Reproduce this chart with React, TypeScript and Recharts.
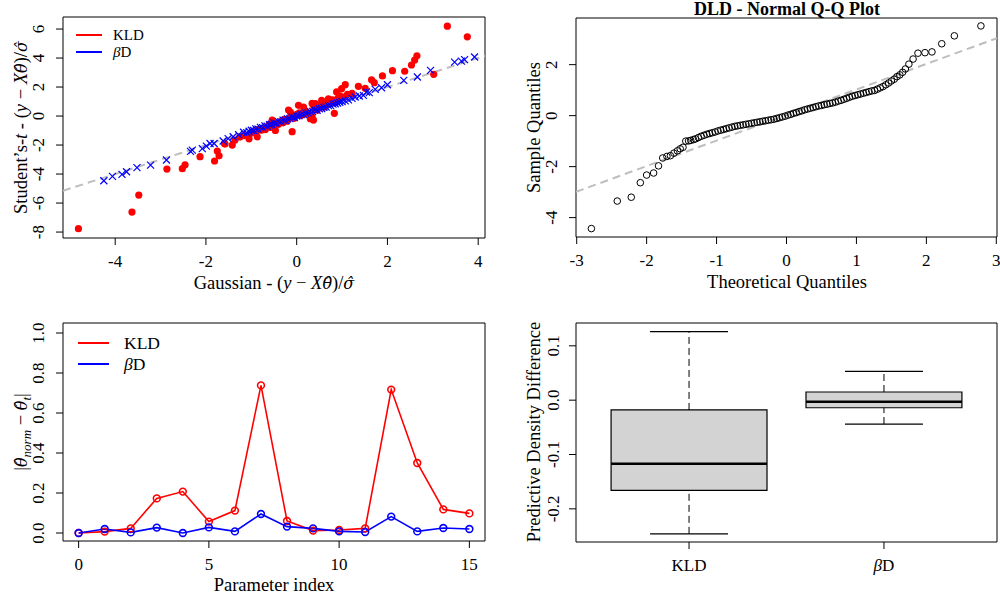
import React from "react";
import {
  ScatterChart,
  Scatter,
  LineChart,
  Line,
  ComposedChart,
  XAxis,
  YAxis,
  ReferenceLine,
  ReferenceArea,
} from "recharts";

const FONT = '"Liberation Serif", "Times New Roman", serif';
const MATH = '"DejaVu Serif", serif';
const HAT = "\u0302";

// ---- top-left: Student's-t residuals vs Gaussian residuals ----
const kldPairs: [number, number][] = [
  [-4.81, -7.77], [-3.63, -6.62], [-3.48, -5.45], [-2.86, -3.66], [-2.52, -3.63],
  [-2.46, -3.36], [-2.13, -2.8], [-1.81, -3.1], [-1.75, -2.41], [-1.71, -2.74],
  [-1.59, -1.89], [-1.58, -1.93], [-1.42, -2.0], [-1.36, -1.66], [-1.25, -1.45],
  [-1.15, -1.35], [-1.05, -1.57], [-1.02, -1.2], [-0.95, -1.08], [-0.9, -1.15],
  [-0.87, -1.43], [-0.84, -0.92], [-0.78, -0.98], [-0.74, -0.82], [-0.69, -0.93],
  [-0.64, -0.72], [-0.6, -0.55], [-0.58, -0.78], [-0.54, -0.28], [-0.52, -0.62],
  [-0.47, -0.99], [-0.44, -0.48], [-0.4, -0.57], [-0.35, -0.36], [-0.3, -0.47],
  [-0.28, -0.22], [-0.25, -0.24], [-0.21, -0.36], [-0.18, 0.41], [-0.15, -0.1],
  [-0.14, 0.28], [-0.1, -1.08], [-0.08, 0.04], [-0.05, -0.16], [0.0, 0.12],
  [0.04, 0.74], [0.06, 0.22], [0.1, 0.05], [0.15, 0.62], [0.19, 0.36],
  [0.2, 0.15], [0.24, 0.2], [0.3, -0.18], [0.34, 0.87], [0.34, -0.05],
  [0.37, -0.28], [0.38, 0.55], [0.41, 0.85], [0.45, 0.4], [0.46, 0.52],
  [0.5, 0.72], [0.55, 1.08], [0.6, 0.76], [0.62, 0.62], [0.65, 0.92],
  [0.7, 1.19], [0.72, 0.85], [0.75, 0.96], [0.79, 1.12], [0.83, 0.19],
  [0.85, 0.95], [0.88, 1.66], [0.91, 1.22], [0.95, 1.4], [0.99, 1.89],
  [1.02, 1.3], [1.07, 2.16], [1.12, 1.5], [1.22, 1.56], [1.36, 2.05],
  [1.51, 1.91], [1.65, 2.5], [1.71, 2.3], [1.89, 2.77], [2.11, 3.13],
  [2.38, 3.09], [2.53, 3.52], [2.6, 3.86], [2.65, 4.15], [3.02, 2.88],
  [3.32, 6.2], [3.76, 5.46],
];

const betaPairs: [number, number][] = [
  [-4.25, -4.46], [-4.06, -4.16], [-3.85, -4.02], [-3.75, -3.84], [-3.52, -3.56],
  [-3.22, -3.38], [-2.87, -3.03], [-2.34, -2.44], [-2.3, -2.35], [-2.08, -2.25],
  [-1.99, -2.07], [-1.91, -1.89], [-1.82, -1.89], [-1.62, -1.72], [-1.51, -1.56],
  [-1.4, -1.43], [-1.28, -1.29], [-1.17, -1.12], [-1.1, -1.15], [-1.05, -1.05],
  [-1.0, -0.98], [-0.95, -1.0], [-0.9, -0.88], [-0.85, -0.9], [-0.8, -0.78],
  [-0.75, -0.8], [-0.7, -0.68], [-0.65, -0.7], [-0.6, -0.6], [-0.55, -0.58],
  [-0.5, -0.48], [-0.45, -0.5], [-0.4, -0.38], [-0.35, -0.4], [-0.3, -0.28],
  [-0.25, -0.3], [-0.2, -0.2], [-0.15, -0.18], [-0.1, -0.08], [-0.05, -0.1],
  [0.0, 0.0], [0.05, 0.02], [0.1, 0.1], [0.15, 0.12], [0.2, 0.2],
  [0.25, 0.22], [0.3, 0.3], [0.35, 0.32], [0.4, 0.42], [0.45, 0.4],
  [0.5, 0.5], [0.55, 0.52], [0.6, 0.6], [0.65, 0.62], [0.7, 0.72],
  [0.75, 0.72], [0.8, 0.82], [0.85, 0.85], [0.9, 0.9], [0.95, 0.95],
  [1.0, 1.0], [1.07, 1.05], [1.14, 1.12], [1.22, 1.22], [1.29, 1.31],
  [1.38, 1.38], [1.47, 1.43], [1.54, 1.66], [1.6, 1.62], [1.73, 1.84],
  [1.87, 1.95], [2.0, 2.16], [2.36, 2.46], [2.66, 2.69], [2.95, 3.15],
  [3.48, 3.72], [3.63, 3.79], [3.7, 3.89], [3.92, 4.07],
];

const tlXDomain = [-5.15, 4.15];
const tlYDomain = [-8.41, 6.83];
const tlXTicks = [-4, -2, 0, 2, 4];
const tlYTicks = [-8, -6, -4, -2, 0, 2, 4, 6];
const tlRefLine = [[-5.15, -5.15], [4.15, 4.15]];

// ---- top-right: DLD normal Q-Q ----
const qqPairs: [number, number][] = [
  [-2.79, -4.43], [-2.42, -3.35], [-2.22, -3.2], [-2.09, -2.63], [-2.0, -2.33],
  [-1.9, -2.25], [-1.83, -1.97], [-1.77, -1.66], [-1.71, -1.6], [-1.66, -1.57],
  [-1.61, -1.47], [-1.56, -1.38], [-1.52, -1.3], [-1.48, -1.24], [-1.44, -1.0],
  [-1.4, -0.99], [-1.37, -0.97], [-1.33, -0.94], [-1.3, -0.91], [-1.26, -0.86],
  [-1.22, -0.81], [-1.18, -0.77], [-1.14, -0.73], [-1.1, -0.7], [-1.06, -0.67],
  [-1.02, -0.64], [-0.98, -0.6], [-0.94, -0.57], [-0.9, -0.54], [-0.86, -0.51],
  [-0.82, -0.48], [-0.78, -0.45], [-0.74, -0.42], [-0.7, -0.4], [-0.66, -0.38],
  [-0.62, -0.36], [-0.58, -0.34], [-0.54, -0.32], [-0.5, -0.3], [-0.46, -0.28],
  [-0.42, -0.26], [-0.38, -0.24], [-0.34, -0.22], [-0.3, -0.2], [-0.26, -0.18],
  [-0.22, -0.16], [-0.18, -0.14], [-0.14, -0.11], [-0.1, -0.08], [-0.06, -0.05],
  [-0.02, -0.02], [0.02, 0.02], [0.06, 0.05], [0.1, 0.09], [0.14, 0.12],
  [0.18, 0.16], [0.22, 0.19], [0.26, 0.23], [0.3, 0.26], [0.34, 0.29],
  [0.38, 0.32], [0.42, 0.35], [0.46, 0.38], [0.5, 0.4], [0.54, 0.43],
  [0.58, 0.45], [0.62, 0.48], [0.66, 0.5], [0.7, 0.53], [0.74, 0.57],
  [0.78, 0.6], [0.82, 0.64], [0.86, 0.68], [0.9, 0.72], [0.94, 0.76],
  [0.98, 0.79], [1.02, 0.82], [1.06, 0.85], [1.1, 0.88], [1.14, 0.91],
  [1.18, 0.94], [1.22, 0.97], [1.26, 0.99], [1.3, 1.04], [1.34, 1.09],
  [1.38, 1.14], [1.42, 1.21], [1.46, 1.28], [1.5, 1.36], [1.54, 1.43],
  [1.58, 1.53], [1.62, 1.6], [1.66, 1.7], [1.7, 1.83], [1.75, 2.02],
  [1.81, 2.22], [1.88, 2.45], [1.98, 2.47], [2.08, 2.5], [2.22, 2.82],
  [2.4, 3.13], [2.78, 3.52],
];

const trXDomain = [-3.01, 3.01];
const trYDomain = [-4.76, 3.83];
const trXTicks = [-3, -2, -1, 0, 1, 2, 3];
const trYTicks = [-4, -2, 0, 2];
const qqLine = [[-3.01, -2.99], [3.01, 3.04]];

// ---- bottom-left: parameter differences ----
const paramIndex = [0, 1, 2, 3, 4, 5, 6, 7, 8, 9, 10, 11, 12, 13, 14, 15];
const kldDiff = [0.0, 0.007, 0.023, 0.173, 0.207, 0.057, 0.112, 0.738, 0.06, 0.012, 0.015, 0.023, 0.717, 0.35, 0.118, 0.098];
const betaDiff = [0.0, 0.02, 0.003, 0.027, 0.0, 0.028, 0.008, 0.095, 0.032, 0.023, 0.008, 0.005, 0.082, 0.008, 0.025, 0.02];
const blXDomain = [-0.6, 15.6];
const blYDomain = [-0.04, 1.05];
const blXTicks = [0, 5, 10, 15];
const blYTicks = [0, 0.2, 0.4, 0.6, 0.8, 1.0];

// ---- bottom-right: predictive density difference boxplots ----
const boxNames = ["KLD", "βD"];
const boxPos = [1, 2];
const boxLow = [-0.246, -0.044];
const boxQ1 = [-0.166, -0.014];
const boxMedian = [-0.117, -0.003];
const boxQ3 = [-0.018, 0.015];
const boxHigh = [0.126, 0.053];
const brXDomain = [0.42, 2.58];
const brYDomain = [-0.261, 0.142];
const brYTicks = [-0.2, -0.1, 0, 0.1];
const BOX_HALF = 0.4;
const CAP_HALF = 0.2;

const RED = "#FF0000";
const BLUE = "#0000FF";
const GREY = "#BEBEBE";

const toXY = (pairs: [number, number][]) => pairs.map(([x, y]) => ({ x, y }));

const bottomTick = (fmt: (v: number, i: number) => React.ReactNode, size = 17, dy = 20) =>
  (props: any) => {
    const { x, y, payload, index } = props;
    return (
      <text x={x} y={y + dy} textAnchor="middle" fontSize={size} fontFamily={FONT} fill="#000">
        {fmt(payload.value, index)}
      </text>
    );
  };

const leftTick = (fmt: (v: number) => string, size = 17, dx = 10) => (props: any) => {
  const { x, y, payload } = props;
  return (
    <text
      transform={`translate(${x - dx},${y}) rotate(-90)`}
      textAnchor="middle"
      fontSize={size}
      fontFamily={FONT}
      fill="#000"
    >
      {fmt(payload.value)}
    </text>
  );
};

const intFmt = (v: number) => String(v);
const oneDec = (v: number) => v.toFixed(1);

// hatted math symbol, set in a font whose combining marks sit properly
const Hat = ({ c }: { c: string }) => (
  <tspan fontFamily={MATH} fontStyle="italic" fontSize={16}>
    {c + HAT}
  </tspan>
);

const App = () => {
  const kldData = toXY(kldPairs);
  const betaData = toXY(betaPairs);
  const qqData = toXY(qqPairs);
  const lineData = paramIndex.map((i, k) => ({ idx: i, kld: kldDiff[k], beta: betaDiff[k] }));
  const medianPts = boxPos.map((p, i) => ({ x: p, y: boxMedian[i] }));

  const tick = { stroke: "#000", strokeWidth: 1 };

  return (
    <div
      style={{
        position: "absolute",
        left: 0,
        top: 0,
        width: 1000,
        height: 602,
        background: "#fff",
        fontFamily: FONT,
      }}
    >
      {/* top-left */}
      <div style={{ position: "absolute", left: 0, top: 0 }}>
        <ScatterChart width={500} height={301} margin={{ top: 17, right: 15, bottom: 0, left: 0 }}>
          <XAxis
            type="number"
            dataKey="x"
            domain={tlXDomain}
            ticks={tlXTicks}
            interval={0}
            allowDataOverflow
            axisLine={false}
            tickLine={tick}
            tickSize={7}
            height={63}
            tick={bottomTick(intFmt)}
          />
          <YAxis
            type="number"
            dataKey="y"
            domain={tlYDomain}
            ticks={tlYTicks}
            interval={0}
            allowDataOverflow
            axisLine={false}
            tickLine={tick}
            tickSize={7}
            width={63}
            tick={leftTick(intFmt)}
          />
          <ReferenceArea
            x1={tlXDomain[0]}
            x2={tlXDomain[1]}
            y1={tlYDomain[0]}
            y2={tlYDomain[1]}
            fill="none"
            stroke="#000"
            strokeWidth={1}
            ifOverflow="visible"
          />
          <Scatter
            data={kldData}
            isAnimationActive={false}
            shape={(p: any) => <circle cx={p.cx} cy={p.cy} r={3.6} fill={RED} />}
          />
          <Scatter
            data={betaData}
            isAnimationActive={false}
            shape={(p: any) => (
              <path
                d={`M${p.cx - 3.5},${p.cy - 3.5}L${p.cx + 3.5},${p.cy + 3.5}M${p.cx - 3.5},${p.cy + 3.5}L${p.cx + 3.5},${p.cy - 3.5}`}
                stroke={BLUE}
                strokeWidth={1.2}
                fill="none"
              />
            )}
          />
          <ReferenceLine
            segment={[
              { x: tlRefLine[0][0], y: tlRefLine[0][1] },
              { x: tlRefLine[1][0], y: tlRefLine[1][1] },
            ]}
            stroke={GREY}
            strokeWidth={2}
            strokeDasharray="8 5"
            ifOverflow="hidden"
          />
        </ScatterChart>
      </div>

      {/* top-right */}
      <div style={{ position: "absolute", left: 500, top: 0 }}>
        <ScatterChart width={500} height={301} margin={{ top: 18, right: 3, bottom: 0, left: 0 }}>
          <XAxis
            type="number"
            dataKey="x"
            domain={trXDomain}
            ticks={trXTicks}
            interval={0}
            allowDataOverflow
            axisLine={false}
            tickLine={tick}
            tickSize={7}
            height={64}
            tick={bottomTick(intFmt)}
          />
          <YAxis
            type="number"
            dataKey="y"
            domain={trYDomain}
            ticks={trYTicks}
            interval={0}
            allowDataOverflow
            axisLine={false}
            tickLine={tick}
            tickSize={7}
            width={76}
            tick={leftTick(intFmt)}
          />
          <ReferenceArea
            x1={trXDomain[0]}
            x2={trXDomain[1]}
            y1={trYDomain[0]}
            y2={trYDomain[1]}
            fill="none"
            stroke="#000"
            strokeWidth={1}
            ifOverflow="visible"
          />
          <Scatter
            data={qqData}
            isAnimationActive={false}
            shape={(p: any) => (
              <circle cx={p.cx} cy={p.cy} r={3.3} fill="none" stroke="#000" strokeWidth={1} />
            )}
          />
          <ReferenceLine
            segment={[
              { x: qqLine[0][0], y: qqLine[0][1] },
              { x: qqLine[1][0], y: qqLine[1][1] },
            ]}
            stroke={GREY}
            strokeWidth={2}
            strokeDasharray="8 5"
            ifOverflow="hidden"
          />
        </ScatterChart>
      </div>

      {/* bottom-left */}
      <div style={{ position: "absolute", left: 0, top: 301 }}>
        <LineChart width={500} height={301} data={lineData} margin={{ top: 22, right: 15, bottom: 0, left: 0 }}>
          <XAxis
            type="number"
            dataKey="idx"
            domain={blXDomain}
            ticks={blXTicks}
            interval={0}
            allowDataOverflow
            axisLine={false}
            tickLine={tick}
            tickSize={7}
            height={61}
            tick={bottomTick(intFmt)}
          />
          <YAxis
            type="number"
            domain={blYDomain}
            ticks={blYTicks}
            interval={0}
            allowDataOverflow
            axisLine={false}
            tickLine={tick}
            tickSize={7}
            width={63}
            tick={leftTick(oneDec)}
          />
          <ReferenceArea
            x1={blXDomain[0]}
            x2={blXDomain[1]}
            y1={blYDomain[0]}
            y2={blYDomain[1]}
            fill="none"
            stroke="#000"
            strokeWidth={1}
            ifOverflow="visible"
          />
          <Line
            type="linear"
            dataKey="kld"
            stroke={RED}
            strokeWidth={1.6}
            isAnimationActive={false}
            activeDot={false}
            dot={(p: any) => (
              <circle key={`k${p.index}`} cx={p.cx} cy={p.cy} r={3.4} fill="none" stroke={RED} strokeWidth={1.6} />
            )}
          />
          <Line
            type="linear"
            dataKey="beta"
            stroke={BLUE}
            strokeWidth={1.6}
            isAnimationActive={false}
            activeDot={false}
            dot={(p: any) => (
              <circle key={`b${p.index}`} cx={p.cx} cy={p.cy} r={3.4} fill="none" stroke={BLUE} strokeWidth={1.6} />
            )}
          />
        </LineChart>
      </div>

      {/* bottom-right */}
      <div style={{ position: "absolute", left: 500, top: 301 }}>
        <ComposedChart width={500} height={301} margin={{ top: 22, right: 3, bottom: 0, left: 0 }}>
          <XAxis
            type="number"
            dataKey="x"
            domain={brXDomain}
            ticks={boxPos}
            interval={0}
            allowDataOverflow
            axisLine={false}
            tickLine={tick}
            tickSize={7}
            height={60}
            tick={bottomTick((v, i) =>
              boxNames[i] === "βD" ? (
                <>
                  <tspan fontStyle="italic">β</tspan>D
                </>
              ) : (
                boxNames[i]
              )
            )}
          />
          <YAxis
            type="number"
            dataKey="y"
            domain={brYDomain}
            ticks={brYTicks}
            interval={0}
            allowDataOverflow
            axisLine={false}
            tickLine={tick}
            tickSize={7}
            width={76}
            tick={leftTick(oneDec, 17, 8)}
          />
          <ReferenceArea
            x1={brXDomain[0]}
            x2={brXDomain[1]}
            y1={brYDomain[0]}
            y2={brYDomain[1]}
            fill="none"
            stroke="#000"
            strokeWidth={1}
            ifOverflow="visible"
          />
          {boxPos.map((c, i) => (
            <ReferenceLine
              key={`wu${i}`}
              segment={[{ x: c, y: boxQ3[i] }, { x: c, y: boxHigh[i] }]}
              stroke="#000"
              strokeWidth={1}
              strokeDasharray="7 4"
            />
          ))}
          {boxPos.map((c, i) => (
            <ReferenceLine
              key={`wl${i}`}
              segment={[{ x: c, y: boxLow[i] }, { x: c, y: boxQ1[i] }]}
              stroke="#000"
              strokeWidth={1}
              strokeDasharray="7 4"
            />
          ))}
          {boxPos.map((c, i) => (
            <ReferenceLine
              key={`cu${i}`}
              segment={[{ x: c - CAP_HALF, y: boxHigh[i] }, { x: c + CAP_HALF, y: boxHigh[i] }]}
              stroke="#000"
              strokeWidth={1.2}
            />
          ))}
          {boxPos.map((c, i) => (
            <ReferenceLine
              key={`cl${i}`}
              segment={[{ x: c - CAP_HALF, y: boxLow[i] }, { x: c + CAP_HALF, y: boxLow[i] }]}
              stroke="#000"
              strokeWidth={1.2}
            />
          ))}
          {boxPos.map((c, i) => (
            <ReferenceArea
              key={`bx${i}`}
              x1={c - BOX_HALF}
              x2={c + BOX_HALF}
              y1={boxQ1[i]}
              y2={boxQ3[i]}
              fill="#D3D3D3"
              fillOpacity={1}
              stroke="#000"
              strokeWidth={1.2}
            />
          ))}
          {boxPos.map((c, i) => (
            <ReferenceLine
              key={`md${i}`}
              segment={[{ x: c - BOX_HALF, y: boxMedian[i] }, { x: c + BOX_HALF, y: boxMedian[i] }]}
              stroke="#000"
              strokeWidth={2.6}
            />
          ))}
          <Scatter data={medianPts} isAnimationActive={false} shape={() => <g />} />
        </ComposedChart>
      </div>

      {/* titles, axis labels and legends */}
      <svg
        width={1000}
        height={602}
        style={{ position: "absolute", left: 0, top: 0, pointerEvents: "none" }}
        fontFamily={FONT}
        fill="#000"
      >
        <text x={787} y={15} textAnchor="middle" fontSize={18} fontWeight="bold">
          DLD - Normal Q-Q Plot
        </text>

        <text x={274} y={289} textAnchor="middle" fontSize={18.5}>
          Gaussian - (<tspan fontStyle="italic">y</tspan> − <tspan fontStyle="italic">X</tspan>
          <Hat c="θ" />)/<Hat c="σ" />
        </text>
        <text transform="translate(27,127.5) rotate(-90)" textAnchor="middle" fontSize={18.5}>
          Student’s-<tspan fontStyle="italic">t</tspan> - (<tspan fontStyle="italic">y</tspan> −{" "}
          <tspan fontStyle="italic">X</tspan>
          <Hat c="θ" />)/<Hat c="σ" />
        </text>

        <text x={787} y={288} textAnchor="middle" fontSize={18.5}>
          Theoretical Quantiles
        </text>
        <text transform="translate(540,127.5) rotate(-90)" textAnchor="middle" fontSize={18.5}>
          Sample Quantiles
        </text>

        <text x={274} y={591} textAnchor="middle" fontSize={18.5}>
          Parameter index
        </text>
        <text transform="translate(27,432) rotate(-90)" textAnchor="middle" fontSize={18.5}>
          |<Hat c="θ" />
          <tspan fontStyle="italic" fontSize={13} dy={4}>norm</tspan>
          <tspan dy={-4}> − </tspan>
          <Hat c="θ" />
          <tspan fontStyle="italic" fontSize={13} dy={4}>t</tspan>
          <tspan dy={-4}>|</tspan>
        </text>

        <text transform="translate(540,432) rotate(-90)" textAnchor="middle" fontSize={18.5}>
          Predictive Density Difference
        </text>

        {/* top-left legend */}
        <line x1={76} x2={102} y1={35} y2={35} stroke={RED} strokeWidth={2} />
        <line x1={76} x2={102} y1={52} y2={52} stroke={BLUE} strokeWidth={2} />
        <text x={113} y={40} fontSize={15}>KLD</text>
        <text x={113} y={57} fontSize={15}>
          <tspan fontStyle="italic">β</tspan>D
        </text>

        {/* bottom-left legend */}
        <line x1={78} x2={109} y1={343} y2={343} stroke={RED} strokeWidth={2} />
        <line x1={78} x2={109} y1={364} y2={364} stroke={BLUE} strokeWidth={2} />
        <text x={124} y={349} fontSize={17.5}>KLD</text>
        <text x={124} y={370} fontSize={17.5}>
          <tspan fontStyle="italic">β</tspan>D
        </text>
      </svg>
    </div>
  );
};

export default App;
